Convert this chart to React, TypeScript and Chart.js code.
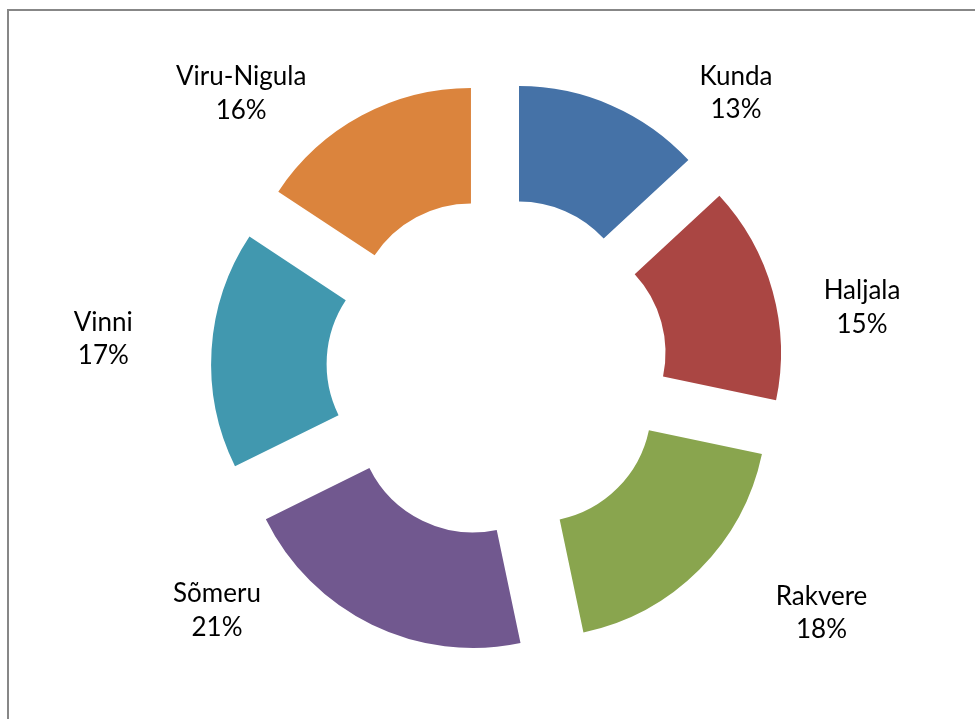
import React, { useEffect, useRef } from 'react';
import { Chart, registerables } from 'chart.js';

Chart.register(...registerables);

const CATEGORIES = ['Kunda', 'Haljala', 'Rakvere', 'Sõmeru', 'Vinni', 'Viru-Nigula'];
const VALUES = [13.1, 15.2, 18.4, 21.0, 16.6, 15.7];
const COLORS = ['#4572A7', '#AA4643', '#89A54E', '#71588F', '#4198AF', '#DB843D'];

// label placement (first-line baseline) relative to the doughnut centre
const LABEL_OFFSETS: [number, number][] = [
  [239, -283],
  [365, -68.5],
  [324.5, 237],
  [-280, 234.5],
  [-393.7, -36.8],
  [-255.8, -282.5],
];

const EXPLODE = 55;
const RADIUS = 231;
const FONT = '26px Lato';
const LINE_GAP = 33.5;

const explodePlugin = {
  id: 'explode',
  beforeDatasetDraw(chart: any, args: any) {
    const ctx = chart.ctx;
    args.meta.data.forEach((arc: any) => {
      const mid = (arc.startAngle + arc.endAngle) / 2;
      ctx.save();
      ctx.translate(Math.cos(mid) * EXPLODE, Math.sin(mid) * EXPLODE);
      arc.draw(ctx, chart.chartArea);
      ctx.restore();
    });
    return false;
  },
};

const labelPlugin = {
  id: 'sliceLabels',
  afterDatasetsDraw(chart: any) {
    const ctx = chart.ctx;
    const meta = chart.getDatasetMeta(0);
    const data = chart.data.datasets[0].data as number[];
    const total = data.reduce((a, b) => a + b, 0);
    ctx.save();
    ctx.font = FONT;
    ctx.fillStyle = '#000000';
    ctx.textAlign = 'center';
    ctx.textBaseline = 'alphabetic';
    meta.data.forEach((arc: any, i: number) => {
      const [dx, dy] = LABEL_OFFSETS[i];
      const x = arc.x + dx;
      const y = arc.y + dy;
      const pct = Math.round((data[i] / total) * 100) + '%';
      ctx.fillText(chart.data.labels[i], x, y);
      ctx.fillText(pct, x, y + LINE_GAP);
    });
    ctx.restore();
  },
};

function DoughnutChart() {
  const ref = useRef<HTMLCanvasElement>(null);
  useEffect(() => {
    if (!ref.current) return;
    const chart = new Chart(ref.current, {
      type: 'doughnut',
      data: {
        labels: CATEGORIES,
        datasets: [
          {
            data: VALUES,
            backgroundColor: COLORS,
            borderWidth: 0,
          },
        ],
      },
      options: {
        responsive: false,
        animation: false,
        devicePixelRatio: 1,
        radius: RADIUS,
        cutout: '50%',
        layout: { padding: { left: 19, right: 0, top: 16, bottom: 0 } },
        plugins: {
          legend: { display: false },
          tooltip: { enabled: false },
        },
        events: [],
      },
      plugins: [explodePlugin, labelPlugin],
    } as any);
    return () => chart.destroy();
  }, []);
  return (
    <canvas
      ref={ref}
      width={975}
      height={719}
      style={{ position: 'absolute', left: 0, top: 0, width: 975, height: 719 }}
    />
  );
}

export default function App() {
  return (
    <div
      style={{
        position: 'fixed',
        left: 0,
        top: 0,
        width: 975,
        height: 719,
        overflow: 'hidden',
        background: '#ffffff',
      }}
    >
      <div
        style={{
          position: 'absolute',
          left: 7,
          top: 9,
          width: 1100,
          height: 1000,
          border: '2px solid #878787',
          boxSizing: 'border-box',
        }}
      />
      <DoughnutChart />
    </div>
  );
}
